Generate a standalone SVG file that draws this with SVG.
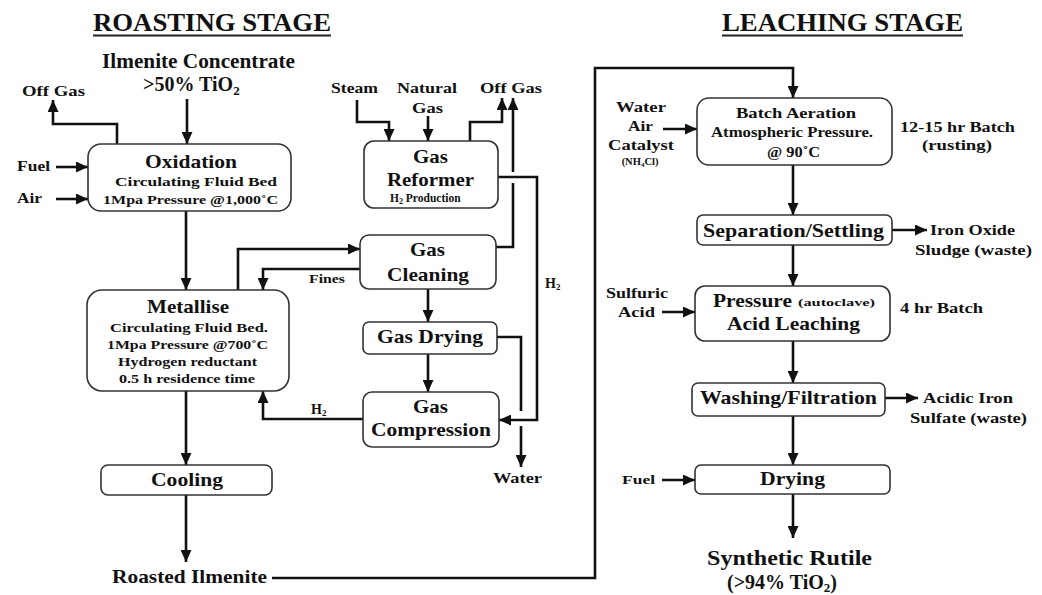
<svg xmlns="http://www.w3.org/2000/svg" width="1042" height="595" viewBox="0 0 1042 595">
  <defs>
    <marker id="arrow" markerUnits="userSpaceOnUse" markerWidth="12" markerHeight="11" refX="12" refY="5.5" orient="auto">
      <path d="M0,0 L12,5.5 L0,11 z" fill="#111"/>
    </marker>
    <style>
      text { font-family: "Liberation Serif", "Times New Roman", serif; font-weight: bold; fill: #111; }
      .box { fill: #fff; stroke: #333; stroke-width: 1.6; }
      .flow { fill: none; stroke: #111; stroke-width: 2.6; }
      .arr { marker-end: url(#arrow); }
      .title { font-size: 26px; }
      .big { font-size: 20px; }
      .h1 { font-size: 19px; }
      .h2 { font-size: 15px; }
      .sm { font-size: 13px; }
      .lbl { font-size: 15px; }
      .tiny { font-size: 10px; }
      .mid { text-anchor: middle; }
    </style>
  </defs>
  <rect width="1042" height="595" fill="#fff"/>

  <!-- stage headings -->
  <g id="headings">
    <text class="title" x="93" y="31" textLength="238" lengthAdjust="spacingAndGlyphs">ROASTING STAGE</text>
    <line x1="93" y1="35.5" x2="331" y2="35.5" stroke="#222" stroke-width="2.2"/>
    <text class="title" x="722" y="31" textLength="241" lengthAdjust="spacingAndGlyphs">LEACHING STAGE</text>
    <line x1="722" y1="35.5" x2="963" y2="35.5" stroke="#222" stroke-width="2.2"/>
  </g>

  <!-- connectors -->
  <g id="connectors">
    <path class="flow arr" d="M187 99 V144"/>
    <path class="flow arr" d="M117 144 V124 H53 V100"/>
    <path class="flow arr" d="M56 167 H88"/>
    <path class="flow arr" d="M56 199 H88"/>
    <path class="flow arr" d="M186 211 V290"/>
    <path class="flow arr" d="M238 290 V249 H360"/>
    <path class="flow arr" d="M360 269 H263 V290"/>
    <path class="flow arr" d="M363 419 H263 V391"/>
    <path class="flow arr" d="M186 391 V465"/>
    <path class="flow arr" d="M186 495 V562"/>
    <path class="flow arr" d="M272 578 H595 V68 H793 V98"/>
    <path class="flow arr" d="M357 100 V122 H389 V141"/>
    <path class="flow arr" d="M428 116 V141"/>
    <path class="flow arr" d="M470 141 V122 H502 V98"/>
    <path class="flow" d="M496 247 H513 V183"/>
    <path class="flow arr" d="M513 172 V98"/>
    <path class="flow arr" d="M498 177 H537 V420 H499"/>
    <path class="flow" d="M497 337 H521 V411"/>
    <path class="flow arr" d="M521 426 V467"/>
    <path class="flow arr" d="M428 289 V322"/>
    <path class="flow arr" d="M428 354 V392"/>
    <path class="flow arr" d="M663 129 H697"/>
    <path class="flow arr" d="M793 165 V215"/>
    <path class="flow arr" d="M892 230 H927"/>
    <path class="flow arr" d="M793 245 V286"/>
    <path class="flow arr" d="M662 312 H695"/>
    <path class="flow arr" d="M793 341 V383"/>
    <path class="flow arr" d="M885 398 H918"/>
    <path class="flow arr" d="M793 416 V465"/>
    <path class="flow arr" d="M662 480 H695"/>
    <path class="flow arr" d="M793 494 V538"/>
  </g>

  <!-- roasting stage feeds and labels -->
  <g id="feed-ilmenite">
    <text class="big" x="102" y="68" textLength="193" lengthAdjust="spacingAndGlyphs">Ilmenite Concentrate</text>
    <text class="big" x="143" y="91">&gt;50% TiO<tspan font-size="13" dy="4">2</tspan></text>
  </g>
  <g id="label-offgas-1"><text class="lbl" x="22" y="96" textLength="63" lengthAdjust="spacingAndGlyphs">Off Gas</text></g>
  <g id="label-fuel-1"><text class="lbl" x="17" y="171" textLength="33" lengthAdjust="spacingAndGlyphs">Fuel</text></g>
  <g id="label-air-1"><text class="lbl" x="17" y="203" textLength="25" lengthAdjust="spacingAndGlyphs">Air</text></g>

  <g id="oxidation">
    <rect class="box" x="88" y="144" width="203" height="67" rx="13"/>
    <text class="h1" x="145" y="168" textLength="92" lengthAdjust="spacingAndGlyphs">Oxidation</text>
    <text class="sm" x="115" y="186" textLength="162" lengthAdjust="spacingAndGlyphs">Circulating Fluid Bed</text>
    <text class="sm" x="103" y="204" textLength="175" lengthAdjust="spacingAndGlyphs">1Mpa Pressure @1,000˚C</text>
  </g>

  <g id="metallise">
    <rect class="box" x="87" y="290" width="202" height="101" rx="15"/>
    <text class="h1" x="147" y="313" textLength="82" lengthAdjust="spacingAndGlyphs">Metallise</text>
    <text class="sm" x="110" y="332" textLength="158" lengthAdjust="spacingAndGlyphs">Circulating Fluid Bed.</text>
    <text class="sm" x="107" y="349" textLength="161" lengthAdjust="spacingAndGlyphs">1Mpa Pressure @700˚C</text>
    <text class="sm" x="118" y="366" textLength="139" lengthAdjust="spacingAndGlyphs">Hydrogen reductant</text>
    <text class="sm" x="119" y="383" textLength="136" lengthAdjust="spacingAndGlyphs">0.5 h residence time</text>
  </g>

  <g id="cooling">
    <rect class="box" x="101" y="465" width="171" height="30" rx="7"/>
    <text class="h1" x="151" y="486" textLength="72" lengthAdjust="spacingAndGlyphs">Cooling</text>
  </g>
  <g id="product-roasted">
    <text class="h1" x="112" y="583" textLength="155" lengthAdjust="spacingAndGlyphs">Roasted Ilmenite</text>
  </g>

  <g id="label-steam"><text class="h2" x="331" y="93" textLength="47" lengthAdjust="spacingAndGlyphs">Steam</text></g>
  <g id="label-natural-gas">
    <text class="h2" x="397" y="93" textLength="60" lengthAdjust="spacingAndGlyphs">Natural</text>
    <text class="h2" x="412" y="113" textLength="31" lengthAdjust="spacingAndGlyphs">Gas</text>
  </g>
  <g id="label-offgas-2"><text class="h2" x="480" y="93" textLength="62" lengthAdjust="spacingAndGlyphs">Off Gas</text></g>

  <g id="gas-reformer">
    <rect class="box" x="364" y="141" width="134" height="67" rx="10"/>
    <text class="h1" x="413" y="163" textLength="35" lengthAdjust="spacingAndGlyphs">Gas</text>
    <text class="h1" x="387" y="186" textLength="87" lengthAdjust="spacingAndGlyphs">Reformer</text>
    <text x="390" y="202" font-size="11.5">H<tspan font-size="8" dy="2">2</tspan><tspan dy="-2"> Production</tspan></text>
  </g>

  <g id="gas-cleaning">
    <rect class="box" x="360" y="235" width="136" height="54" rx="9"/>
    <text class="h1" x="410" y="256" textLength="35" lengthAdjust="spacingAndGlyphs">Gas</text>
    <text class="h1" x="387" y="281" textLength="82" lengthAdjust="spacingAndGlyphs">Cleaning</text>
  </g>
  <g id="label-fines"><text class="sm" x="309" y="283" textLength="36" lengthAdjust="spacingAndGlyphs">Fines</text></g>

  <g id="gas-drying">
    <rect class="box" x="363" y="322" width="134" height="32" rx="6"/>
    <text class="h1" x="377" y="343" textLength="106" lengthAdjust="spacingAndGlyphs">Gas Drying</text>
  </g>

  <g id="gas-compression">
    <rect class="box" x="363" y="392" width="136" height="55" rx="9"/>
    <text class="h1" x="413" y="413" textLength="35" lengthAdjust="spacingAndGlyphs">Gas</text>
    <text class="h1" x="371" y="436" textLength="120" lengthAdjust="spacingAndGlyphs">Compression</text>
  </g>

  <g id="label-h2-left"><text x="311" y="414" font-size="14">H<tspan font-size="9" dy="2">2</tspan></text></g>
  <g id="label-h2-right"><text x="545" y="288" font-size="14">H<tspan font-size="9" dy="2">2</tspan></text></g>
  <g id="label-water-out"><text class="h2" x="493" y="483" textLength="49" lengthAdjust="spacingAndGlyphs">Water</text></g>

  <!-- leaching stage -->
  <g id="label-water-air-catalyst">
    <text class="h2" x="616" y="112" font-size="16" textLength="50" lengthAdjust="spacingAndGlyphs">Water</text>
    <text class="h2" x="628" y="131" font-size="16" textLength="25" lengthAdjust="spacingAndGlyphs">Air</text>
    <text class="h2" x="608" y="150" font-size="16" textLength="66" lengthAdjust="spacingAndGlyphs">Catalyst</text>
    <text class="mid" x="640" y="165" font-size="10.5">(NH<tspan font-size="7" dy="2">4</tspan><tspan dy="-2">Cl)</tspan></text>
  </g>

  <g id="batch-aeration">
    <rect class="box" x="697" y="98" width="195" height="67" rx="12"/>
    <text class="h2" x="736" y="118" textLength="120" lengthAdjust="spacingAndGlyphs">Batch Aeration</text>
    <text class="h2" x="711" y="137" textLength="162" lengthAdjust="spacingAndGlyphs">Atmospheric Pressure.</text>
    <text class="h2" x="767" y="157" textLength="53" lengthAdjust="spacingAndGlyphs">@ 90˚C</text>
  </g>
  <g id="label-rusting">
    <text class="h2" x="900" y="132" textLength="115" lengthAdjust="spacingAndGlyphs">12-15 hr Batch</text>
    <text class="h2" x="922" y="150" textLength="70" lengthAdjust="spacingAndGlyphs">(rusting)</text>
  </g>

  <g id="separation-settling">
    <rect class="box" x="697" y="215" width="195" height="30" rx="6"/>
    <text class="h1" x="703" y="237" textLength="181" lengthAdjust="spacingAndGlyphs">Separation/Settling</text>
  </g>
  <g id="label-iron-oxide">
    <text class="h2" x="930" y="235" textLength="85" lengthAdjust="spacingAndGlyphs">Iron Oxide</text>
    <text class="h2" x="915" y="255" textLength="117" lengthAdjust="spacingAndGlyphs">Sludge (waste)</text>
  </g>

  <g id="label-sulfuric-acid">
    <text class="h2" x="606" y="298" textLength="62" lengthAdjust="spacingAndGlyphs">Sulfuric</text>
    <text class="h2" x="618" y="317" textLength="37" lengthAdjust="spacingAndGlyphs">Acid</text>
  </g>
  <g id="pressure-acid-leaching">
    <rect class="box" x="695" y="286" width="195" height="55" rx="10"/>
    <text class="h1" x="713" y="307" textLength="79" lengthAdjust="spacingAndGlyphs">Pressure</text>
    <text x="798" y="306" font-size="11" textLength="77" lengthAdjust="spacingAndGlyphs">(autoclave)</text>
    <text class="h1" x="727" y="330" textLength="133" lengthAdjust="spacingAndGlyphs">Acid Leaching</text>
  </g>
  <g id="label-leach-time"><text class="h2" x="900" y="313" textLength="83" lengthAdjust="spacingAndGlyphs">4 hr Batch</text></g>

  <g id="washing-filtration">
    <rect class="box" x="692" y="383" width="193" height="33" rx="6"/>
    <text class="h1" x="700" y="404" textLength="177" lengthAdjust="spacingAndGlyphs">Washing/Filtration</text>
  </g>
  <g id="label-iron-sulfate">
    <text class="h2" x="923" y="403" textLength="90" lengthAdjust="spacingAndGlyphs">Acidic Iron</text>
    <text class="h2" x="910" y="423" textLength="117" lengthAdjust="spacingAndGlyphs">Sulfate (waste)</text>
  </g>

  <g id="label-fuel-2"><text class="sm" x="622" y="484" textLength="33" lengthAdjust="spacingAndGlyphs">Fuel</text></g>
  <g id="drying">
    <rect class="box" x="695" y="465" width="195" height="29" rx="6"/>
    <text class="h1" x="760" y="485" textLength="65" lengthAdjust="spacingAndGlyphs">Drying</text>
  </g>

  <g id="product-rutile">
    <text class="big" x="707" y="565" textLength="165" lengthAdjust="spacingAndGlyphs">Synthetic Rutile</text>
    <text class="big" x="727" y="589">(&gt;94% TiO<tspan font-size="13" dy="3">2</tspan><tspan dy="-3">)</tspan></text>
  </g>
</svg>
